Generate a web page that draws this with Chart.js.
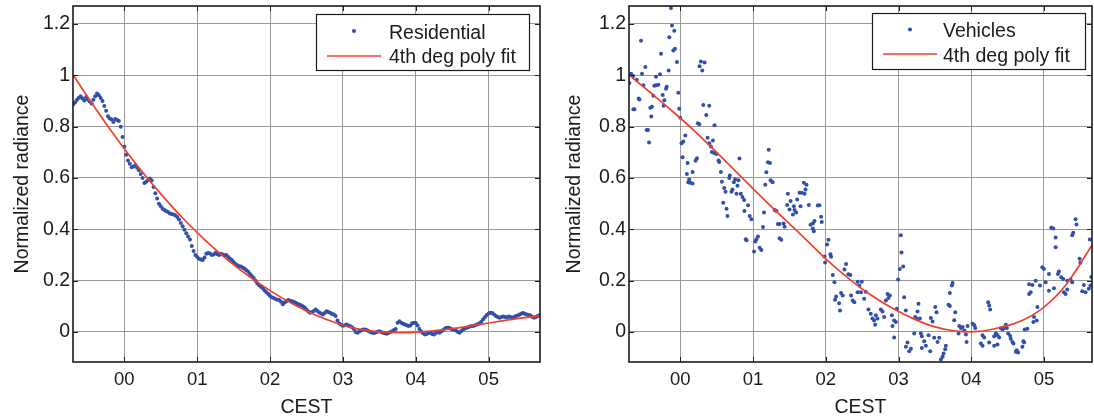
<!DOCTYPE html>
<html>
<head>
<meta charset="utf-8">
<title>Normalized radiance, CEST</title>
<script src="https://cdn.jsdelivr.net/npm/chart.js@4.4.1/dist/chart.umd.min.js"></script>
<style>
  html, body { margin: 0; padding: 0; background: #ffffff; }
  #wrap { position: relative; width: 1094px; height: 417px; overflow: hidden; background: #ffffff; }
  #residential { position: absolute; left: 0; top: 0; }
  #vehicles { position: absolute; left: 551px; top: 0; }
</style>
</head>
<body>
<div id="wrap">
  <canvas id="residential" width="551" height="417"></canvas>
  <canvas id="vehicles" width="543" height="417"></canvas>
</div>
<script>
// Axis ticks (hours relative to midnight CEST)
const hourTicks = [0, 1, 2, 3, 4, 5];
const hourLabels = ['00', '01', '02', '03', '04', '05'];
const radianceTicks = [0, 0.2, 0.4, 0.6, 0.8, 1, 1.2];
const radianceLabels = ['0', '0.2', '0.4', '0.6', '0.8', '1', '1.2'];

// Residential radiance, one sample every 1.5 min from 23:18 CEST
const residentialStart = -0.70;
const residentialStep = 0.025;
const residentialValues = [
  0.887, 0.895, 0.905, 0.913, 0.918, 0.910, 0.902, 0.915, 0.905, 0.898, 0.890, 0.905, 0.918,
  0.929, 0.922, 0.912, 0.900,
  0.880, 0.862, 0.840, 0.832,
  0.828, 0.818, 0.830, 0.826,
  0.822, 0.800, 0.760, 0.722,
  0.690, 0.668, 0.655, 0.642,
  0.645, 0.650, 0.640, 0.630,
  0.615, 0.600, 0.580, 0.585,
  0.592, 0.598, 0.590, 0.565,
  0.540, 0.520, 0.500, 0.490,
  0.480, 0.475, 0.470, 0.467,
  0.462, 0.460, 0.458, 0.455,
  0.448, 0.438, 0.425, 0.412,
  0.398, 0.385, 0.372, 0.360,
  0.335, 0.315, 0.300, 0.292,
  0.285, 0.282, 0.280, 0.290,
  0.305, 0.308, 0.306, 0.300,
  0.302, 0.308, 0.303, 0.300,
  0.305, 0.302, 0.298, 0.300,
  0.292, 0.285, 0.280, 0.273,
  0.265, 0.260, 0.256, 0.255,
  0.250, 0.246, 0.240, 0.235,
  0.226, 0.218, 0.210, 0.200,
  0.190, 0.182, 0.176, 0.170,
  0.162, 0.155, 0.148, 0.140,
  0.135, 0.132, 0.128, 0.126,
  0.125, 0.118, 0.108, 0.115,
  0.120, 0.125, 0.122, 0.120,
  0.118, 0.114, 0.110, 0.107,
  0.104, 0.100, 0.095, 0.088,
  0.080, 0.075, 0.078, 0.082,
  0.088, 0.082, 0.076, 0.072,
  0.068, 0.074, 0.081, 0.078,
  0.075, 0.070, 0.068, 0.062,
  0.045, 0.033, 0.028, 0.024,
  0.026, 0.029, 0.025, 0.022,
  0.018, 0.012, 0.000, -0.003,
  0.002, 0.006, 0.010, 0.010,
  0.008, 0.004, 0.000, -0.003,
  -0.004, -0.002, 0.001, 0.003,
  0.000, -0.003, -0.005, -0.007,
  -0.004, 0.000, 0.003, 0.008,
  0.012, 0.036, 0.042, 0.036,
  0.032, 0.029, 0.026, 0.023,
  0.025, 0.034, 0.036, 0.035,
  0.025, 0.012, 0.002, -0.005,
  -0.010, -0.008, -0.004, -0.003,
  -0.008, -0.010, -0.004, 0.002,
  -0.003, 0.002, 0.008, 0.014,
  0.016, 0.016, 0.014, 0.010,
  0.010, 0.006, 0.001, -0.003,
  0.004, 0.010, 0.014, 0.016,
  0.019, 0.022, 0.023, 0.024,
  0.027, 0.030, 0.034, 0.040,
  0.050, 0.058, 0.066, 0.072,
  0.075, 0.074, 0.068, 0.062,
  0.058, 0.055, 0.058, 0.060,
  0.058, 0.057, 0.060, 0.058,
  0.055, 0.058, 0.062, 0.064,
  0.068, 0.072, 0.074, 0.070,
  0.068, 0.066, 0.064, 0.058,
  0.055, 0.058, 0.062, 0.066
];

// 4th degree polynomial fit, residential
const residentialFitHours  = [-0.7, -0.4, -0.1, 0.2, 0.5, 0.8, 1.1, 1.4, 1.7, 2.0, 2.3, 2.6, 2.9, 3.2, 3.5, 3.8, 4.1, 4.4, 4.7, 5.0, 5.3, 5.7];
const residentialFitValues = [1.000, 0.872, 0.752, 0.640, 0.538, 0.444, 0.360, 0.285, 0.219, 0.161, 0.111, 0.069, 0.036, 0.012, 0.000, -0.003, 0.001, 0.009, 0.021, 0.035, 0.048, 0.063];

// Vehicle radiance samples: [hour, normalized radiance]
const vehicleSamples = [
  [-0.700, 0.970], [-0.677, 1.006], [-0.645, 0.997], [-0.645, 0.868], [-0.631, 0.868], [-0.599, 0.983],
  [-0.572, 0.910], [-0.562, 0.906], [-0.540, 1.135], [-0.526, 1.006], [-0.508, 0.961], [-0.480, 1.032],
  [-0.462, 0.787], [-0.444, 0.787], [-0.430, 0.738], [-0.412, 0.874], [-0.398, 0.839], [-0.389, 0.877],
  [-0.370, 0.920], [-0.357, 0.959], [-0.334, 0.961], [-0.334, 0.994], [-0.302, 0.963], [-0.279, 1.004],
  [-0.265, 1.084], [-0.242, 0.923], [-0.229, 0.881], [-0.219, 0.903], [-0.197, 0.948], [-0.187, 0.955],
  [-0.160, 1.019], [-0.151, 1.148], [-0.128, 1.262], [-0.114, 1.194], [-0.096, 1.097], [-0.082, 1.174],
  [-0.073, 1.103], [-0.046, 1.052], [-0.027, 0.932], [-0.014, 0.870], [0.000, 0.835], [0.018, 0.735],
  [0.032, 0.681], [0.041, 0.742], [0.069, 0.765], [0.091, 0.615], [0.101, 0.658], [0.110, 0.583],
  [0.123, 0.594], [0.137, 0.581], [0.169, 0.578], [0.169, 0.623], [0.210, 0.667], [0.229, 0.677],
  [0.242, 0.813], [0.261, 0.809], [0.265, 1.035], [0.283, 1.054], [0.302, 1.019], [0.316, 0.884],
  [0.334, 1.050], [0.357, 0.845], [0.375, 0.757], [0.398, 0.881], [0.398, 0.735], [0.421, 0.723],
  [0.434, 0.701], [0.448, 0.746], [0.466, 0.697], [0.471, 0.805], [0.498, 0.693], [0.526, 0.668],
  [0.535, 0.662], [0.558, 0.623], [0.572, 0.585], [0.590, 0.503], [0.604, 0.561], [0.622, 0.546],
  [0.636, 0.480], [0.649, 0.452], [0.672, 0.600], [0.681, 0.610], [0.704, 0.546], [0.718, 0.555],
  [0.736, 0.583], [0.754, 0.594], [0.773, 0.539], [0.786, 0.570], [0.800, 0.591], [0.814, 0.676],
  [0.832, 0.539], [0.855, 0.526], [0.878, 0.514], [0.882, 0.471], [0.901, 0.361], [0.910, 0.357],
  [0.932, 0.494], [0.954, 0.452], [0.977, 0.439], [1.014, 0.314], [1.032, 0.352], [1.046, 0.361],
  [1.068, 0.372], [1.091, 0.328], [1.114, 0.319], [1.137, 0.409], [1.151, 0.465], [1.169, 0.574],
  [1.183, 0.622], [1.205, 0.661], [1.215, 0.710], [1.233, 0.658], [1.242, 0.591], [1.269, 0.583],
  [1.297, 0.475], [1.320, 0.471], [1.342, 0.421], [1.365, 0.421], [1.365, 0.365], [1.388, 0.359],
  [1.420, 0.423], [1.434, 0.410], [1.470, 0.495], [1.479, 0.539], [1.502, 0.477], [1.516, 0.510],
  [1.548, 0.458], [1.562, 0.490], [1.571, 0.475], [1.594, 0.465], [1.607, 0.516], [1.639, 0.542],
  [1.653, 0.490], [1.671, 0.542], [1.699, 0.581], [1.708, 0.539], [1.721, 0.555], [1.735, 0.574],
  [1.767, 0.495], [1.790, 0.418], [1.822, 0.423], [1.822, 0.403], [1.836, 0.392], [1.845, 0.432],
  [1.890, 0.493], [1.913, 0.494], [1.936, 0.449], [1.945, 0.428], [1.982, 0.294], [1.991, 0.271],
  [2.018, 0.341], [2.037, 0.359], [2.064, 0.303], [2.073, 0.293], [2.096, 0.222], [2.119, 0.194],
  [2.128, 0.126], [2.142, 0.138], [2.183, 0.112], [2.196, 0.084], [2.210, 0.152], [2.233, 0.142],
  [2.256, 0.243], [2.279, 0.265], [2.311, 0.225], [2.338, 0.222], [2.347, 0.142], [2.370, 0.123],
  [2.393, 0.116], [2.438, 0.196], [2.438, 0.155], [2.461, 0.181], [2.484, 0.155], [2.495, 0.196],
  [2.528, 0.129], [2.550, 0.157], [2.587, 0.088], [2.619, 0.071], [2.642, 0.052], [2.665, 0.045],
  [2.679, 0.028], [2.688, 0.065], [2.711, 0.052], [2.757, 0.088], [2.780, 0.080], [2.803, 0.058],
  [2.826, 0.123], [2.849, 0.148], [2.862, 0.132], [2.881, 0.142], [2.908, 0.065], [2.917, 0.023],
  [2.940, 0.045], [2.940, -0.022], [2.963, 0.039], [2.977, 0.090], [2.995, 0.204], [3.018, 0.245],
  [3.032, 0.377], [3.041, 0.310], [3.064, 0.255], [3.078, 0.135], [3.101, 0.084], [3.101, -0.058],
  [3.124, -0.041], [3.147, -0.075], [3.170, -0.065], [3.216, -0.006], [3.229, 0.058], [3.248, 0.052],
  [3.261, 0.080], [3.275, 0.110], [3.294, 0.052], [3.307, -0.006], [3.321, -0.017], [3.321, -0.062],
  [3.353, -0.036], [3.376, -0.054], [3.413, -0.013], [3.436, -0.075], [3.445, 0.054], [3.468, 0.041],
  [3.491, -0.023], [3.505, 0.097], [3.523, 0.077], [3.537, -0.039], [3.560, -0.023], [3.583, -0.107],
  [3.606, -0.097], [3.619, -0.084], [3.642, -0.067], [3.651, -0.054], [3.688, 0.106], [3.706, 0.101],
  [3.706, 0.152], [3.734, 0.181], [3.743, 0.191], [3.766, 0.046], [3.780, 0.077], [3.826, -0.006],
  [3.835, 0.023], [3.858, 0.015], [3.881, 0.019], [3.904, 0.006], [3.927, -0.010], [3.936, -0.039],
  [3.950, 0.023], [4.018, 0.032], [4.041, 0.026], [4.055, 0.015], [4.132, -0.045], [4.155, -0.013],
  [4.155, -0.054], [4.178, -0.022], [4.233, 0.116], [4.247, 0.103], [4.247, -0.041], [4.260, 0.088],
  [4.315, -0.017], [4.315, -0.054], [4.338, -0.006], [4.361, -0.013], [4.361, -0.049], [4.384, -0.022],
  [4.406, 0.015], [4.429, 0.010], [4.452, 0.015], [4.475, 0.028], [4.489, 0.015], [4.507, -0.006],
  [4.534, -0.015], [4.543, -0.026], [4.566, -0.039], [4.580, -0.045], [4.612, -0.077], [4.626, -0.071],
  [4.644, -0.080], [4.703, -0.058], [4.717, -0.036], [4.726, -0.041], [4.735, 0.010], [4.772, 0.013],
  [4.795, 0.186], [4.795, 0.148], [4.817, 0.155], [4.840, 0.183], [4.854, 0.039], [4.863, 0.058],
  [4.886, 0.200], [4.900, 0.045], [4.909, 0.097], [4.945, 0.181], [4.977, 0.252], [5.000, 0.245],
  [5.023, 0.194], [5.068, 0.226], [5.068, 0.161], [5.100, 0.406], [5.128, 0.403], [5.137, 0.170],
  [5.160, 0.368], [5.160, 0.330], [5.192, 0.226], [5.205, 0.236], [5.237, 0.213], [5.265, 0.206],
  [5.274, 0.155], [5.297, 0.148], [5.320, 0.200], [5.320, 0.165], [5.365, 0.204], [5.388, 0.194],
  [5.388, 0.377], [5.402, 0.387], [5.434, 0.439], [5.447, 0.419], [5.490, 0.285], [5.500, 0.270],
  [5.525, 0.159], [5.548, 0.183], [5.571, 0.155], [5.616, 0.168], [5.630, 0.360], [5.639, 0.181],
  [5.650, 0.214]
];

// 4th degree polynomial fit, vehicles
const vehicleFitHours  = [-0.7, -0.4, -0.1, 0.2, 0.5, 0.8, 1.1, 1.4, 1.7, 2.0, 2.3, 2.6, 2.9, 3.2, 3.5, 3.8, 4.1, 4.4, 4.7, 5.0, 5.3, 5.66];
const vehicleFitValues = [1.000, 0.930, 0.858, 0.782, 0.700, 0.615, 0.530, 0.448, 0.368, 0.285, 0.212, 0.148, 0.095, 0.052, 0.020, 0.003, 0.002, 0.018, 0.045, 0.097, 0.183, 0.338];

const FONT = "'Liberation Sans', Arial, Helvetica, sans-serif";
const DOT_BLUE = '#3050aa';
const FIT_RED = '#f0402c';
const INK = '#1b1b1b';
const GRID = '#999999';

// Box around the plot area with short inward tick marks on all four sides
const framePlugin = {
  id: 'frame',
  afterDatasetsDraw(chart) {
    const { ctx, chartArea: a, scales } = chart;
    const tickLen = 5;
    ctx.save();
    ctx.strokeStyle = INK;
    ctx.lineWidth = 1;
    ctx.beginPath();
    hourTicks.forEach(v => {
      const px = Math.round(scales.x.getPixelForValue(v)) + 0.5;
      ctx.moveTo(px, a.bottom); ctx.lineTo(px, a.bottom - tickLen);
      ctx.moveTo(px, a.top); ctx.lineTo(px, a.top + tickLen);
    });
    radianceTicks.forEach(v => {
      const py = Math.round(scales.y.getPixelForValue(v)) + 0.5;
      ctx.moveTo(a.left, py); ctx.lineTo(a.left + tickLen, py);
      ctx.moveTo(a.right, py); ctx.lineTo(a.right - tickLen, py);
    });
    ctx.stroke();
    ctx.lineWidth = 1.6;
    ctx.strokeRect(a.left, a.top, a.right - a.left, a.bottom - a.top);
    ctx.restore();
  }
};

// Boxed legend in the upper right corner of the plot
const boxLegendPlugin = {
  id: 'boxLegend',
  afterDraw(chart, args, opts) {
    const { ctx } = chart;
    const [pointSet, fitSet] = [chart.data.datasets[1], chart.data.datasets[0]];
    ctx.save();
    ctx.fillStyle = '#ffffff';
    ctx.fillRect(opts.x, opts.y, opts.w, opts.h);
    ctx.strokeStyle = INK;
    ctx.lineWidth = 1.2;
    ctx.strokeRect(opts.x, opts.y, opts.w, opts.h);
    // marker sample
    ctx.fillStyle = pointSet.backgroundColor;
    ctx.beginPath();
    ctx.arc(opts.markX, opts.row1, pointSet.pointRadius, 0, Math.PI * 2);
    ctx.fill();
    // line sample
    ctx.strokeStyle = fitSet.borderColor;
    ctx.lineWidth = fitSet.borderWidth;
    ctx.beginPath();
    ctx.moveTo(opts.lineX0, opts.row2);
    ctx.lineTo(opts.lineX1, opts.row2);
    ctx.stroke();
    // labels
    ctx.fillStyle = INK;
    ctx.font = '19.5px ' + FONT;
    ctx.textAlign = 'left';
    ctx.textBaseline = 'alphabetic';
    ctx.fillText(pointSet.label, opts.textX, opts.base1);
    ctx.fillText(fitSet.label, opts.textX, opts.base2);
    ctx.restore();
  }
};

function makeChart(canvasId, cfg) {
  const titleFont = { family: FONT, size: 19.5, lineHeight: 1 };
  return new Chart(document.getElementById(canvasId), {
    type: 'scatter',
    data: {
      datasets: [
        {
          type: 'line',
          label: '4th deg poly fit',
          data: cfg.fitHours.map((h, i) => ({ x: h, y: cfg.fitValues[i] })),
          borderColor: FIT_RED,
          borderWidth: 1.7,
          pointRadius: 0,
          showLine: true,
          tension: 0.4,
          fill: false,
          order: 0,
          clip: 0
        },
        {
          type: 'scatter',
          label: cfg.label,
          data: cfg.points,
          backgroundColor: DOT_BLUE,
          borderWidth: 0,
          pointRadius: 2,
          pointHoverRadius: 2,
          order: 1,
          clip: 0
        }
      ]
    },
    options: {
      responsive: false,
      animation: false,
      events: [],
      layout: { padding: { left: 0, top: 6, right: cfg.padRight, bottom: 0 } },
      plugins: {
        legend: { display: false },
        tooltip: { enabled: false },
        boxLegend: cfg.legend
      },
      scales: {
        x: {
          type: 'linear',
          min: cfg.xMin,
          max: cfg.xMax,
          afterBuildTicks: s => { s.ticks = hourTicks.map(v => ({ value: v })); },
          afterFit: s => { s.height = 55; s.paddingLeft = 0; s.paddingRight = 0; },
          grid: { color: GRID, lineWidth: 1, drawTicks: false },
          border: { display: false },
          ticks: {
            autoSkip: false,
            maxRotation: 0,
            padding: 7,
            color: INK,
            font: { family: FONT, size: 18.5 },
            callback: (v, i) => hourLabels[i]
          },
          title: { display: true, text: 'CEST', color: INK, font: titleFont, padding: { top: 0, bottom: 0 } }
        },
        y: {
          type: 'linear',
          min: -0.117,
          max: 1.27,
          afterBuildTicks: s => { s.ticks = radianceTicks.map(v => ({ value: v })); },
          afterFit: s => { s.width = cfg.yWidth; s.paddingTop = 0; s.paddingBottom = 0; },
          grid: { color: GRID, lineWidth: 1, drawTicks: false },
          border: { display: false },
          ticks: {
            autoSkip: false,
            padding: 3,
            color: INK,
            font: { family: FONT, size: 19.5 },
            callback: (v, i) => radianceLabels[i]
          },
          title: {
            display: true,
            text: 'Normalized radiance',
            color: INK,
            font: titleFont,
            padding: { top: cfg.yTitlePad, bottom: 0 }
          }
        }
      }
    },
    plugins: [framePlugin, boxLegendPlugin]
  });
}

makeChart('residential', {
  label: 'Residential',
  points: residentialValues.map((v, i) => ({ x: residentialStart + i * residentialStep, y: v })),
  fitHours: residentialFitHours,
  fitValues: residentialFitValues,
  xMin: -0.705,
  xMax: 5.705,
  yWidth: 73,
  padRight: 11,
  yTitlePad: 13,
  legend: { x: 316.5, y: 14.5, w: 213, h: 56, markX: 354, row1: 31, lineX0: 327, lineX1: 381, row2: 56, textX: 389, base1: 38.5, base2: 62.5 }
});

makeChart('vehicles', {
  label: 'Vehicles',
  points: vehicleSamples.map(p => ({ x: p[0], y: p[1] })),
  fitHours: vehicleFitHours,
  fitValues: vehicleFitValues,
  xMin: -0.705,
  xMax: 5.66,
  yWidth: 78,
  padRight: 1,
  yTitlePad: 14,
  legend: { x: 321.5, y: 13.5, w: 213, h: 56, markX: 359, row1: 29.5, lineX0: 332, lineX1: 386, row2: 54, textX: 392, base1: 37, base2: 61.5 }
});
</script>
</body>
</html>
